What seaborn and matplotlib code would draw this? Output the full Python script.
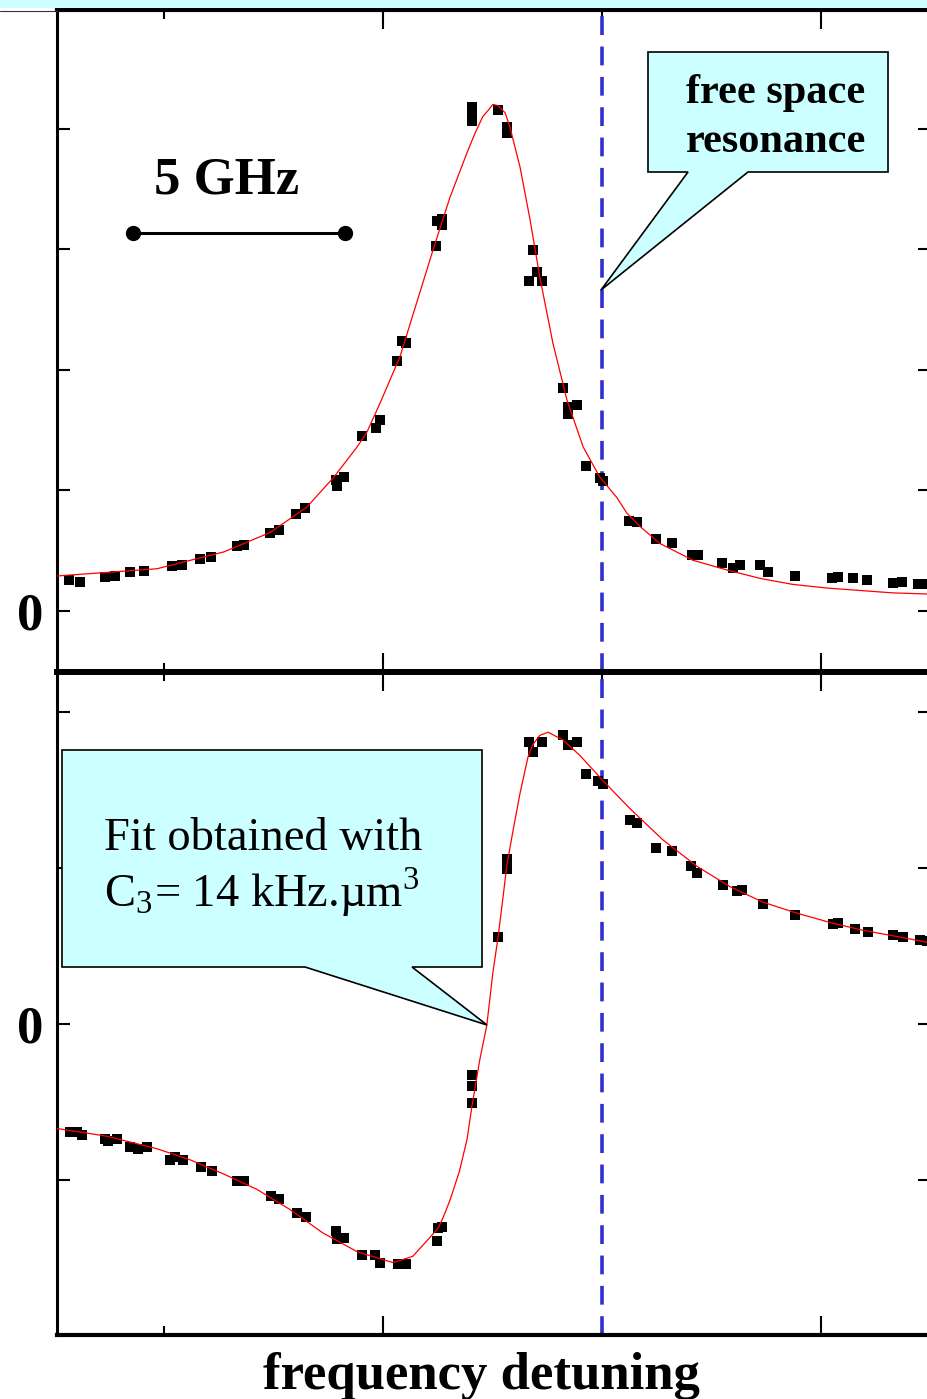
import numpy as np
import pandas as pd
import matplotlib
matplotlib.use("Agg")
import matplotlib.pyplot as plt
from matplotlib.patches import Polygon, Rectangle
from matplotlib.lines import Line2D
import seaborn as sns

sns.set_style("ticks")
plt.rcParams["font.family"] = ["Liberation Serif", "DejaVu Serif"]
plt.rcParams["mathtext.fontset"] = "stix"
plt.rcParams["text.color"] = "black"
plt.rcParams["axes.edgecolor"] = "black"
plt.rcParams["xtick.color"] = "black"
plt.rcParams["ytick.color"] = "black"

# detuning in GHz (0 = free space resonance), signal in arbitrary units
# upper panel: measured points
x_top = [-12.17, -11.92, -11.35, -11.12, -10.78, -10.46, -9.82, -9.59, -9.18, -8.93,
         -8.33, -8.17, -7.58, -7.37, -6.99, -6.78, -6.07, -6.05, -5.89, -5.48,
         -5.16, -5.07, -4.68, -4.57, -4.47, -3.79, -3.77, -3.65, -3.65, -2.97,
         -2.97, -2.97, -2.37, -2.17, -2.17, -1.67, -1.58, -1.48, -1.37, -0.89,
         -0.78, -0.78, -0.57, -0.37, -0.05, 0.02, 0.62, 0.80, 1.23, 1.60,
         2.05, 2.19, 2.74, 2.99, 3.15, 3.61, 3.79, 4.41, 5.25, 5.39,
         5.73, 6.05, 6.64, 6.85, 7.21, 7.42]
y_top = [0.26, 0.24, 0.28, 0.29, 0.32, 0.33, 0.37, 0.38, 0.43, 0.45,
         0.54, 0.55, 0.65, 0.67, 0.80, 0.85, 1.09, 1.04, 1.11, 1.45,
         1.52, 1.58, 2.07, 2.24, 2.22, 3.03, 3.23, 3.25, 3.20, 4.18,
         4.13, 4.06, 4.15, 4.01, 3.96, 2.74, 2.99, 2.81, 2.74, 1.85,
         1.69, 1.63, 1.71, 1.20, 1.10, 1.08, 0.75, 0.74, 0.60, 0.56,
         0.46, 0.46, 0.40, 0.36, 0.38, 0.38, 0.32, 0.29, 0.27, 0.28,
         0.27, 0.26, 0.23, 0.24, 0.22, 0.22]

# upper panel: fit curve
fit_x_top = [-12.44, -11.30, -10.16, -8.63, -7.58, -6.74, -6.12, -5.59, -5.37, -5.07,
             -4.61, -3.86, -3.47, -3.08, -2.90, -2.72, -2.60, -2.49, -2.37, -2.21,
             -2.10, -1.87, -1.64, -1.42, -1.12, -0.80, -0.43, -0.05, 0.34, 0.57,
             0.87, 1.32, 2.08, 2.85, 3.61, 4.36, 5.14, 5.89, 6.64, 7.49]
fit_y_top = [0.29, 0.32, 0.35, 0.49, 0.65, 0.86, 1.11, 1.36, 1.48, 1.72,
             2.11, 2.99, 3.43, 3.80, 3.96, 4.10, 4.15, 4.20, 4.19, 4.13,
             4.01, 3.68, 3.24, 2.77, 2.22, 1.75, 1.36, 1.11, 0.94, 0.81,
             0.70, 0.56, 0.42, 0.34, 0.27, 0.22, 0.19, 0.17, 0.15, 0.14]

# lower panel: measured points
x_bot = [-12.15, -11.99, -11.87, -11.35, -11.28, -11.07, -10.78, -10.59, -10.39, -9.86,
         -9.75, -9.57, -9.16, -8.90, -8.33, -8.17, -7.56, -7.37, -6.96, -6.76,
         -6.07, -6.05, -5.89, -5.48, -5.18, -5.07, -4.66, -4.47, -3.77, -3.74,
         -3.65, -2.97, -2.97, -2.97, -2.37, -2.17, -2.17, -1.67, -1.58, -1.37,
         -0.89, -0.78, -0.57, -0.37, -0.09, 0.02, 0.64, 0.80, 1.23, 1.60,
         2.03, 2.17, 2.76, 3.08, 3.20, 3.68, 4.41, 5.27, 5.39, 5.78,
         6.07, 6.64, 6.87, 7.26, 7.42]
y_bot = [-0.69, -0.69, -0.71, -0.74, -0.75, -0.74, -0.79, -0.80, -0.79, -0.87,
         -0.85, -0.87, -0.92, -0.94, -1.01, -1.01, -1.10, -1.12, -1.21, -1.24,
         -1.33, -1.38, -1.37, -1.48, -1.48, -1.53, -1.54, -1.54, -1.39, -1.31,
         -1.30, -0.33, -0.40, -0.51, 0.56, 1.06, 0.99, 1.81, 1.74, 1.81,
         1.85, 1.79, 1.81, 1.60, 1.56, 1.54, 1.31, 1.29, 1.13, 1.11,
         1.01, 0.97, 0.89, 0.85, 0.86, 0.77, 0.70, 0.64, 0.65, 0.61,
         0.59, 0.57, 0.56, 0.54, 0.53]

# lower panel: fit curve
fit_x_bot = [-12.44, -11.30, -10.16, -9.41, -8.65, -7.88, -7.12, -6.37, -5.59, -4.77,
             -4.32, -3.74, -3.61, -3.47, -3.26, -3.08, -2.97, -2.79, -2.63, -2.49,
             -2.37, -2.26, -2.17, -2.03, -1.87, -1.69, -1.58, -1.42, -1.23, -0.89,
             -0.50, 0.02, 0.64, 1.39, 2.17, 2.92, 3.68, 4.45, 5.21, 5.96,
             6.74, 7.49]
fit_y_bot = [-0.67, -0.72, -0.80, -0.87, -0.96, -1.06, -1.19, -1.34, -1.46, -1.53,
             -1.49, -1.31, -1.23, -1.13, -0.95, -0.74, -0.53, -0.23, -0.01, 0.33,
             0.56, 0.81, 1.02, 1.24, 1.48, 1.71, 1.79, 1.85, 1.87, 1.82,
             1.72, 1.56, 1.38, 1.18, 1.01, 0.88, 0.78, 0.71, 0.65, 0.60,
             0.56, 0.52]

resonance_ghz = 0.0
scale_bar_ghz = [-10.71, -5.87]
scale_bar_level = 3.13

W, H = 928, 1399


def fx(px):
    return px / W


def fy(py):
    return 1 - py / H


fig = plt.figure(figsize=(W / 100, H / 100), dpi=100)
ax1 = fig.add_axes([fx(57), fy(672), (931 - 57) / W, (672 - 10) / H])
ax2 = fig.add_axes([fx(57), fy(1335), (931 - 57) / W, (1335 - 672) / H])

top_df = pd.DataFrame({"x": x_top, "y": y_top})
bot_df = pd.DataFrame({"x": x_bot, "y": y_bot})

for ax, df, fx_, fy_ in [(ax1, top_df, fit_x_top, fit_y_top), (ax2, bot_df, fit_x_bot, fit_y_bot)]:
    ax.axvline(resonance_ghz, color="#3030D0", lw=2.6, linestyle=(0, (5.2, 3.2)), zorder=2)
    sns.scatterplot(data=df, x="x", y="y", ax=ax, marker="s", s=46, color="black",
                    linewidth=0, zorder=3, legend=False)
    sns.lineplot(x=fx_, y=fy_, ax=ax, color="red", lw=0.9, sort=False, estimator=None, zorder=4)
    ax.set_xlim(-12.44, 7.51)
    ax.set_xticks([-5, 5])
    ax.set_xticks([-10, 0], minor=True)
    ax.tick_params(axis="x", which="both", direction="in", top=True, bottom=True,
                   labelbottom=False, width=1.5)
    ax.tick_params(axis="x", which="major", length=14)
    ax.tick_params(axis="x", which="minor", length=6.5)
    ax.tick_params(axis="y", direction="in", left=True, right=True, length=9.5, width=1.5, pad=10)
    ax.set_xlabel("")
    ax.set_ylabel("")
    ax.spines["left"].set_linewidth(2.2)
    ax.spines["right"].set_linewidth(2.2)
    ax.spines["top"].set_linewidth(3.0)
    ax.spines["bottom"].set_linewidth(3.0)

ax1.spines["bottom"].set_linewidth(4.3)
ax2.spines["top"].set_linewidth(4.3)

ax1.set_ylim(-0.506, 4.983)
ax1.set_yticks([0, 1, 2, 3, 4])
ax1.set_yticklabels(["0", "", "", "", ""], fontsize=38, fontweight="bold")

ax2.set_ylim(-1.994, 2.256)
ax2.set_yticks([-1, 0, 1, 2])
ax2.set_yticklabels(["", "0", "", ""], fontsize=38, fontweight="bold")

# 5 GHz scale bar
ax1.plot(scale_bar_ghz, [scale_bar_level, scale_bar_level], color="black", lw=2.2,
         marker="o", ms=10, zorder=5)
fig.text(fx(227), fy(193), "5 GHz", ha="center", va="baseline", fontsize=38, fontweight="bold")

# top cyan band
fig.add_artist(Rectangle((0, fy(8)), 1, 8 / H, transform=fig.transFigure,
                         facecolor="#CCFFFF", edgecolor="none"))
fig.add_artist(Line2D([0, fx(57)], [fy(11), fy(11)], transform=fig.transFigure,
                      color="#333333", lw=0.8))

# callouts
callout_top = [(648, 52), (888, 52), (888, 172), (748, 172), (601, 290), (688, 172), (648, 172)]
callout_bot = [(62, 750), (482, 750), (482, 967), (412, 967), (487, 1025), (305, 967), (62, 967)]
for pts in (callout_top, callout_bot):
    fig.add_artist(Polygon([(fx(a), fy(b)) for a, b in pts], closed=True,
                           transform=fig.transFigure, facecolor="#CCFFFF",
                           edgecolor="black", lw=1.2, zorder=6))

fig.text(fx(776), fy(103), "free space", ha="center", va="baseline", fontsize=30.5,
         fontweight="bold", zorder=7)
fig.text(fx(776), fy(152), "resonance", ha="center", va="baseline", fontsize=30.5,
         fontweight="bold", zorder=7)
fig.text(fx(104), fy(850), "Fit obtained with", ha="left", va="baseline", fontsize=33.5, zorder=7)
fig.text(fx(104), fy(908), "C$_\\mathregular{3}$= 14 kHz.µm$^\\mathregular{3}$", ha="left",
         va="baseline", fontsize=33.5, zorder=7)

fig.text(fx(481), fy(1389), "frequency detuning", ha="center", va="baseline",
         fontsize=38, fontweight="bold")

fig.savefig("out.png", dpi=100)
